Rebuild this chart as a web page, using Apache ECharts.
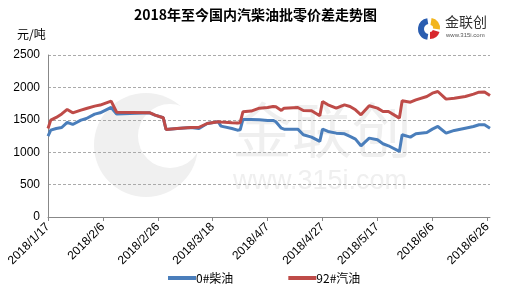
<!DOCTYPE html>
<html>
<head>
<meta charset="utf-8">
<script src="https://cdn.jsdelivr.net/npm/echarts@6/dist/echarts.min.js"></script>
<style>
html,body{margin:0;padding:0;background:#fff;}
#c{width:511px;height:291px;}
</style>
</head>
<body>
<div id="c"></div>
<script>
var dates = ['2018-01-17','2018-01-18','2018-01-20','2018-01-22','2018-01-24','2018-01-26','2018-01-29','2018-01-31','2018-02-03','2018-02-05','2018-02-09','2018-02-11','2018-02-23','2018-02-25','2018-02-28','2018-03-01','2018-03-05','2018-03-10','2018-03-13','2018-03-16','2018-03-20','2018-03-21','2018-03-25','2018-03-27','2018-03-28','2018-03-29','2018-04-01','2018-04-04','2018-04-07','2018-04-09','2018-04-10','2018-04-12','2018-04-13','2018-04-18','2018-04-20','2018-04-23','2018-04-26','2018-04-27','2018-04-29','2018-05-02','2018-05-05','2018-05-07','2018-05-09','2018-05-11','2018-05-14','2018-05-17','2018-05-19','2018-05-21','2018-05-25','2018-05-26','2018-05-29','2018-05-31','2018-06-04','2018-06-06','2018-06-08','2018-06-11','2018-06-14','2018-06-18','2018-06-21','2018-06-23','2018-06-25','2018-06-27'];
var diesel = [1247,1340,1366,1381,1460,1428,1495,1520,1588,1608,1691,1590,1608,1572,1531,1350,1366,1381,1365,1443,1469,1402,1366,1340,1345,1505,1505,1500,1490,1490,1470,1371,1356,1356,1269,1233,1166,1356,1320,1294,1284,1243,1202,1099,1217,1191,1130,1099,1012,1269,1233,1284,1305,1356,1397,1294,1336,1371,1397,1423,1423,1371];
var gasoline = [1366,1495,1536,1590,1660,1608,1650,1675,1711,1727,1789,1617,1610,1572,1531,1350,1366,1381,1385,1443,1469,1465,1454,1450,1455,1624,1634,1680,1690,1706,1700,1644,1680,1690,1644,1640,1562,1783,1731,1680,1731,1706,1654,1577,1716,1680,1628,1628,1526,1793,1772,1808,1860,1911,1937,1819,1834,1860,1896,1927,1930,1875];
var seriesNames = ['0#柴油','92#汽油'];
var yTicks = [0,500,1000,1500,2000,2500];
var startDate = '2018-01-17';

var DAY = 86400000;
function toUTC(s){var p=s.split('-');return Date.UTC(+p[0],+p[1]-1,+p[2]);}
var base = toUTC(startDate);
function dayIdx(s){return Math.round((toUTC(s)-base)/DAY);}
function pairs(vals){return dates.map(function(d,i){return [dayIdx(d), vals[i]];});}
function fmt(v){var dt=new Date(base+v*DAY);return dt.getUTCFullYear()+'/'+(dt.getUTCMonth()+1)+'/'+dt.getUTCDate();}

var chart = echarts.init(document.getElementById('c'), null, {renderer:'canvas'});
var font = '"Liberation Sans", Arial, sans-serif';
var cjk = '"Noto Sans CJK SC", sans-serif';
chart.setOption({
  animation:false,
  backgroundColor:'#fff',
  title:{text:'2018年至今国内汽柴油批零价差走势图', left:'center', top:3,
    textStyle:{fontSize:14, fontWeight:'bold', color:'#000', fontFamily:cjk}},
  graphic:[
    {type:'circle', z:-10, shape:{cx:146, cy:145, r:52}, style:{fill:'#f0f0f0'}, silent:true},
    {type:'circle', z:-9, shape:{cx:170, cy:136, r:32}, style:{fill:'#fff'}, silent:true},
    {type:'text', z:-8, left:232, top:100, style:{text:'金联创', fontSize:60, fill:'#efefef', fontFamily:cjk}, silent:true},
    {type:'text', z:-8, left:233, top:168, style:{text:'www.315i.com', fontSize:27, fill:'#efefef', fontFamily:font}, silent:true},
    {type:'text', left:17, top:28, style:{text:'元/吨', fontSize:12, fill:'#000', fontFamily:cjk}},
    {type:'sector', shape:{cx:429, cy:29, r:11, r0:5, startAngle:Math.PI*0.55, endAngle:Math.PI*1.45}, style:{fill:'#2a5db0'}},
    {type:'sector', shape:{cx:430, cy:28, r:10, r0:3, startAngle:-Math.PI*0.45, endAngle:Math.PI*0.05}, style:{fill:'#f2b51c'}},
    {type:'sector', shape:{cx:430, cy:29, r:10, r0:3, startAngle:Math.PI*0.1, endAngle:Math.PI*0.5}, style:{fill:'#d8282e'}},
    {type:'text', left:445, top:15, style:{text:'金联创', fontSize:14, fill:'#333', fontFamily:cjk}},
    {type:'text', left:446, top:32, style:{text:'www.315i.com', fontSize:6, fill:'#555', fontFamily:font}}
  ],
  grid:{left:48, right:21, top:55, bottom:74},
  legend:{bottom:2, left:163, itemGap:55, itemWidth:28, itemHeight:4, icon:'rect',
    data:seriesNames, textStyle:{fontSize:12, color:'#000', fontFamily:cjk, padding:[0,0,0,-5]}},
  xAxis:{type:'value', min:0, max:161, interval:20,
    axisLine:{show:true, lineStyle:{color:'#888'}},
    axisTick:{show:true, length:4, lineStyle:{color:'#888'}},
    splitLine:{show:false},
    axisLabel:{rotate:45, fontSize:12, color:'#000', fontFamily:font, margin:8, showMaxLabel:false, formatter:fmt}},
  yAxis:{type:'value', min:yTicks[0], max:yTicks[yTicks.length-1], interval:500,
    axisLine:{show:true, lineStyle:{color:'#888'}},
    axisTick:{show:false},
    splitLine:{show:true, lineStyle:{color:'#aaa', type:[3,2]}},
    axisLabel:{fontSize:12, color:'#000', fontFamily:font, margin:8, formatter:function(v){return String(v);}}},
  series:[
    {name:seriesNames[0], type:'line', data:pairs(diesel), symbol:'none', color:'#4a7ebb', lineStyle:{width:3, color:'#4a7ebb'}, z:2},
    {name:seriesNames[1], type:'line', data:pairs(gasoline), symbol:'none', color:'#be4b48', lineStyle:{width:3, color:'#be4b48'}, z:3}
  ]
});
</script>
</body>
</html>
